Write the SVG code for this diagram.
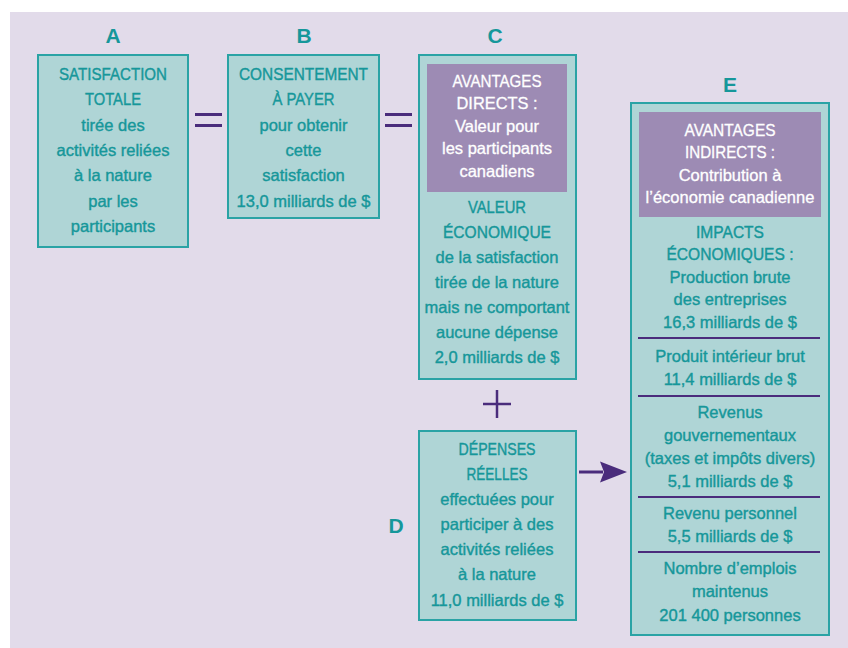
<svg xmlns="http://www.w3.org/2000/svg" width="848" height="648" viewBox="0 0 848 648">
<defs>
<style>
.bg{fill:#e2dbea}
.box{fill:#afd5d6;stroke:#2aa3a5;stroke-width:2}
.hdr{fill:#9d8bb4}
.t{font-family:"Liberation Sans",Arial,sans-serif;font-size:16.5px;fill:#16979a;text-anchor:middle;stroke:#16979a;stroke-width:0.4}
.c{font-size:16.5px}
.w{fill:#ffffff;stroke:#ffffff;stroke-width:0.3}
.lbl{font-family:"Liberation Sans",Arial,sans-serif;font-size:21px;font-weight:bold;fill:#16979a;text-anchor:middle}
.op{stroke:#4a2c7c;stroke-width:3;fill:none}
.div{stroke:#4a2c7c;stroke-width:2}
</style>
</defs>
<rect class="bg" x="10" y="12" width="838" height="636"/>

<g id="labels">
<text class="lbl" x="113" y="43">A</text>
<text class="lbl" x="304" y="43">B</text>
<text class="lbl" x="495" y="43">C</text>
<text class="lbl" x="396" y="533">D</text>
<text class="lbl" x="730" y="92">E</text>
</g>

<g id="nodeA">
<rect class="box" x="38" y="55" width="150" height="192"/>
<text class="t c" x="113" y="80" textLength="108" lengthAdjust="spacingAndGlyphs">SATISFACTION</text>
<text class="t c" x="113" y="105" textLength="56" lengthAdjust="spacingAndGlyphs">TOTALE</text>
<text class="t" x="113" y="131">tirée des</text>
<text class="t" x="113" y="156">activités reliées</text>
<text class="t" x="113" y="181">à la nature</text>
<text class="t" x="113" y="207">par les</text>
<text class="t" x="113" y="232">participants</text>
</g>

<g id="nodeB">
<rect class="box" x="228" y="55" width="151" height="163"/>
<text class="t c" x="303.5" y="80" textLength="129" lengthAdjust="spacingAndGlyphs">CONSENTEMENT</text>
<text class="t c" x="303.5" y="105" textLength="62" lengthAdjust="spacingAndGlyphs">À PAYER</text>
<text class="t" x="303.5" y="131">pour obtenir</text>
<text class="t" x="303.5" y="156">cette</text>
<text class="t" x="303.5" y="181">satisfaction</text>
<text class="t" x="303.5" y="207">13,0 milliards de $</text>
</g>

<g id="nodeC">
<rect class="box" x="419" y="55" width="157" height="324"/>
<rect class="hdr" x="427" y="64" width="140" height="128"/>
<text class="t c w" x="497" y="86.5" textLength="89" lengthAdjust="spacingAndGlyphs">AVANTAGES</text>
<text class="t c w" x="497" y="109" textLength="81" lengthAdjust="spacingAndGlyphs">DIRECTS :</text>
<text class="t w" x="497" y="131.5">Valeur pour</text>
<text class="t w" x="497" y="154">les participants</text>
<text class="t w" x="497" y="176.5">canadiens</text>
<text class="t c" x="497" y="212.5" textLength="58" lengthAdjust="spacingAndGlyphs">VALEUR</text>
<text class="t c" x="497" y="237.5" textLength="108" lengthAdjust="spacingAndGlyphs">ÉCONOMIQUE</text>
<text class="t" x="497" y="262.5">de la satisfaction</text>
<text class="t" x="497" y="287.5">tirée de la nature</text>
<text class="t" x="497" y="312.5">mais ne comportant</text>
<text class="t" x="497" y="337.5">aucune dépense</text>
<text class="t" x="497" y="362.5">2,0 milliards de $</text>
</g>

<g id="nodeD">
<rect class="box" x="419" y="431" width="157" height="189"/>
<text class="t c" x="497" y="454.5" textLength="77" lengthAdjust="spacingAndGlyphs">DÉPENSES</text>
<text class="t c" x="497" y="479.5" textLength="61" lengthAdjust="spacingAndGlyphs">RÉELLES</text>
<text class="t" x="497" y="504.5">effectuées pour</text>
<text class="t" x="497" y="530">participer à des</text>
<text class="t" x="497" y="555">activités reliées</text>
<text class="t" x="497" y="580">à la nature</text>
<text class="t" x="497" y="605.5">11,0 milliards de $</text>
</g>

<g id="nodeE">
<rect class="box" x="631" y="103" width="198" height="532"/>
<rect class="hdr" x="639" y="112" width="182" height="105"/>
<text class="t c w" x="730" y="135.5" textLength="91" lengthAdjust="spacingAndGlyphs">AVANTAGES</text>
<text class="t c w" x="730" y="158" textLength="90" lengthAdjust="spacingAndGlyphs">INDIRECTS :</text>
<text class="t w" x="730" y="180.5">Contribution à</text>
<text class="t w" x="730" y="203">l’économie canadienne</text>
<text class="t c" x="730" y="237.5" textLength="68" lengthAdjust="spacingAndGlyphs">IMPACTS</text>
<text class="t c" x="730" y="260" textLength="127" lengthAdjust="spacingAndGlyphs">ÉCONOMIQUES :</text>
<text class="t" x="730" y="282.5">Production brute</text>
<text class="t" x="730" y="305">des entreprises</text>
<text class="t" x="730" y="328">16,3 milliards de $</text>
<line class="div" x1="638" y1="338" x2="820" y2="338"/>
<text class="t" x="730" y="361.5">Produit intérieur brut</text>
<text class="t" x="730" y="384.5">11,4 milliards de $</text>
<line class="div" x1="638" y1="396" x2="820" y2="396"/>
<text class="t" x="730" y="417.5">Revenus</text>
<text class="t" x="730" y="440.5">gouvernementaux</text>
<text class="t" x="730" y="463.5">(taxes et impôts divers)</text>
<text class="t" x="730" y="486.5">5,1 milliards de $</text>
<line class="div" x1="638" y1="497" x2="820" y2="497"/>
<text class="t" x="730" y="518.5">Revenu personnel</text>
<text class="t" x="730" y="541.5">5,5 milliards de $</text>
<line class="div" x1="638" y1="552" x2="820" y2="552"/>
<text class="t" x="730" y="573.5">Nombre d’emplois</text>
<text class="t" x="730" y="597">maintenus</text>
<text class="t" x="730" y="620.5">201 400 personnes</text>
</g>

<g id="connectors">
<line class="op" x1="195" y1="114.5" x2="222" y2="114.5"/>
<line class="op" x1="195" y1="125.5" x2="222" y2="125.5"/>
<line class="op" x1="385" y1="114.5" x2="412" y2="114.5"/>
<line class="op" x1="385" y1="125.5" x2="412" y2="125.5"/>
<line class="op" x1="483" y1="404" x2="511" y2="404" style="stroke-width:2.5"/>
<line class="op" x1="497" y1="390" x2="497" y2="418" style="stroke-width:2.5"/>
<line class="op" x1="579" y1="472" x2="603" y2="472"/>
<path d="M600,461.5 L627,472 L600,482.5 L604,472 Z" fill="#4a2c7c"/>
</g>
</svg>
